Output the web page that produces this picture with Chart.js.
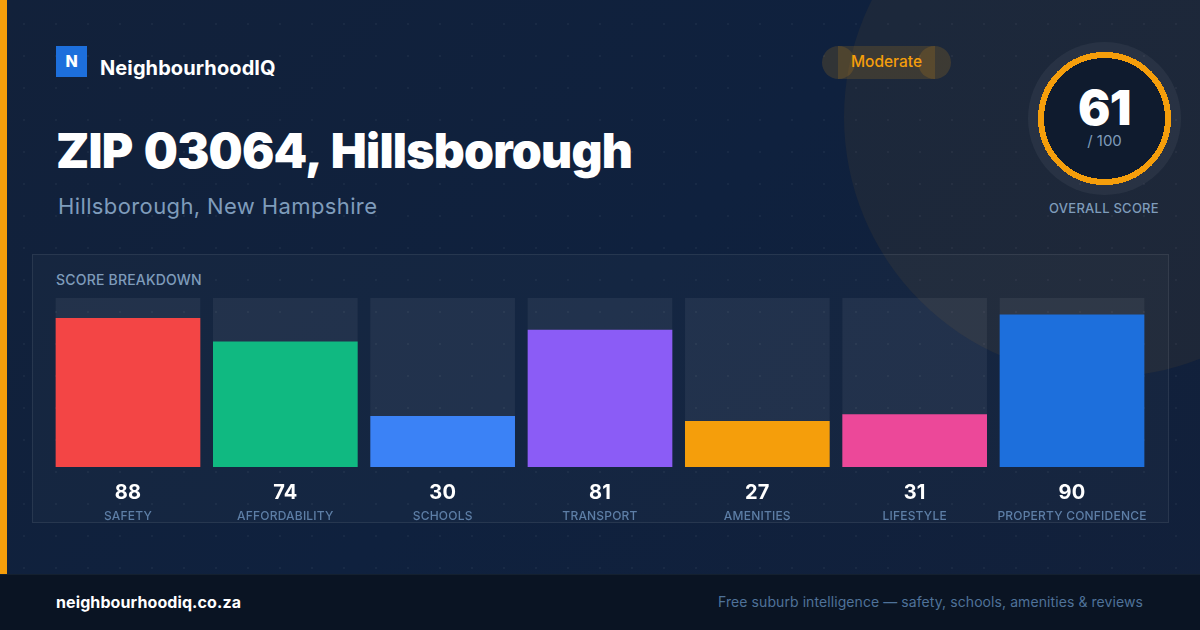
<!DOCTYPE html>
<html>
<head>
<meta charset="utf-8">
<script src="https://cdn.jsdelivr.net/npm/chart.js@4"></script>
<style>
  * { margin: 0; padding: 0; box-sizing: border-box; }
  body { width: 1200px; height: 630px; overflow: hidden; position: relative; font-family: Inter, sans-serif; background: linear-gradient(135deg, #12213a 0%, #0f213e 50%, #12203a 100%); }
  .abs { position: absolute; white-space: nowrap; }
  #dots { left: 0; top: 0; width: 1200px; height: 630px; background-image: radial-gradient(circle at 16px 16px, rgba(255,255,255,.04) 1.2px, transparent 1.6px); background-size: 32px 32px; background-position: 8px 8px; }
  #glow { left: 844px; top: -143px; width: 520px; height: 520px; border-radius: 50%; background: rgba(245,158,11,.06); }
  #stripe { left: 0; top: 0; width: 7px; height: 574px; background: #f59e0b; }
  #logo { left: 56px; top: 46px; width: 31px; height: 31px; background: #1d6fdc; color: #fff; font-weight: 800; font-size: 16px; text-align: center; line-height: 30px; }
  #brand { left: 100px; top: 55px; color: #fff; font-weight: 700; font-size: 20px; line-height: 26px; letter-spacing: .1px; }
  #title { left: 56px; top: 122px; color: #fff; font-weight: 900; font-size: 48px; line-height: 58px; letter-spacing: -.75px; word-spacing: 2.5px; }
  #sub { left: 58px; top: 191px; color: #7f9cbb; font-size: 22px; line-height: 30px; letter-spacing: .38px; }
  .pill { background: rgba(245,158,11,.15); top: 46px; height: 33px; }
  #score { left: 1028px; top: 42px; }
  #num { left: 1028px; width: 153px; top: 80px; text-align: center; color: #fff; font-weight: 900; font-size: 48px; line-height: 56px; letter-spacing: -.5px; }
  #of { left: 1028px; width: 153px; top: 131px; text-align: center; color: #7f9cbb; font-size: 15px; line-height: 20px; }
  #overall { left: 1004px; width: 200px; top: 199px; text-align: center; color: #7f9cbb; font-weight: 500; font-size: 13px; line-height: 18px; letter-spacing: .25px; }
  #panel { left: 32px; top: 254px; width: 1137px; height: 269px; background: rgba(255,255,255,.025); border: 1px solid rgba(255,255,255,.08); }
  #breakdown { left: 56px; top: 271px; color: #7f9cbb; font-weight: 500; font-size: 14px; line-height: 18px; letter-spacing: .2px; }
  #wrap { left: 0; top: 290px; width: 1200px; height: 240px; }
  #footer { left: 0; top: 574px; width: 1200px; height: 56px; background: #0a1423; border-top: 1px solid #14202f; }
  #site { left: 56px; top: 592px; color: #fff; font-weight: 700; font-size: 16px; line-height: 20px; letter-spacing: .1px; }
  #tagline { right: 57px; top: 592px; color: #4f7299; font-size: 14px; line-height: 20px; letter-spacing: .08px; }
</style>
</head>
<body>
<div class="abs" id="glow"></div>
<div class="abs" id="dots"></div>
<div class="abs" id="stripe"></div>
<div class="abs" id="logo">N</div>
<div class="abs" id="brand">NeighbourhoodIQ</div>
<div class="abs" id="title">ZIP 03064, Hillsborough</div>
<div class="abs" id="sub">Hillsborough, New Hampshire</div>

<div class="abs pill" style="left:822px;width:33px;border-radius:50%"></div>
<div class="abs pill" style="left:918px;width:33px;border-radius:50%"></div>
<div class="abs pill" style="left:838px;width:97px"></div>
<div class="abs" style="left:822px;width:129px;top:46px;line-height:31px;text-align:center;color:#f59e0b;font-weight:500;font-size:15.5px">Moderate</div>

<svg class="abs" id="score" width="153" height="153" viewBox="0 0 153 153">
  <circle cx="76.5" cy="76.5" r="76.5" fill="rgba(255,255,255,.05)"/>
  <circle cx="76.5" cy="76.5" r="63.5" fill="#0f1b2e" stroke="#f59e0b" stroke-width="6" shape-rendering="crispEdges"/>
</svg>
<div class="abs" id="num">61</div>
<div class="abs" id="of">/ 100</div>
<div class="abs" id="overall">OVERALL SCORE</div>

<div class="abs" id="panel"></div>
<div class="abs" id="breakdown">SCORE BREAKDOWN</div>
<div class="abs" id="wrap"><canvas id="chart" width="1200" height="240"></canvas></div>

<div class="abs" id="footer"></div>
<div class="abs" id="site">neighbourhoodiq.co.za</div>
<div class="abs" id="tagline">Free suburb intelligence — safety, schools, amenities &amp; reviews</div>

<script>
const categories = ['SAFETY', 'AFFORDABILITY', 'SCHOOLS', 'TRANSPORT', 'AMENITIES', 'LIFESTYLE', 'PROPERTY CONFIDENCE'];
const scores = [88, 74, 30, 81, 27, 31, 90];
const trackValues = [100, 100, 100, 100, 100, 100, 100];
const barColors = ['#f34545', '#10b981', '#3b82f6', '#8b5cf6', '#f59e0b', '#ec4899', '#1d6fdc'];

// canvas has no css letter spacing, tick labels need a little
const spacing = {
  id: 'spacing',
  beforeDraw(chart) { chart.ctx.letterSpacing = '0.2px'; }
};

new Chart(document.getElementById('chart'), {
  type: 'bar',
  plugins: [spacing],
  data: {
    labels: scores.map(String),
    datasets: [
      { data: scores, backgroundColor: barColors, barThickness: 144, order: 1, grouped: false },
      { data: trackValues, backgroundColor: 'rgba(255,255,255,.06)', barThickness: 144, order: 2, grouped: false }
    ]
  },
  options: {
    responsive: false,
    animation: false,
    layout: { padding: { left: 49.33, right: 49.33, top: 8, bottom: 0 } },
    plugins: { legend: { display: false }, tooltip: { enabled: false } },
    scales: {
      y: { display: false, min: 0, max: 100 },
      x: {
        position: 'bottom',
        grid: { display: false, drawTicks: false },
        border: { display: false },
        ticks: { color: '#ffffff', font: { family: 'Inter', size: 20, weight: '700' }, padding: 14, autoSkip: false, maxRotation: 0 },
        afterFit(scale) { scale.height = 39; }
      },
      names: {
        type: 'category',
        position: 'bottom',
        labels: categories,
        grid: { display: false, drawTicks: false },
        border: { display: false },
        ticks: { color: '#5d7ea6', font: { family: 'Inter', size: 12, weight: '500' }, padding: 3, autoSkip: false, maxRotation: 0 },
        afterFit(scale) { scale.height = 24; }
      }
    }
  }
});
</script>
</body>
</html>
